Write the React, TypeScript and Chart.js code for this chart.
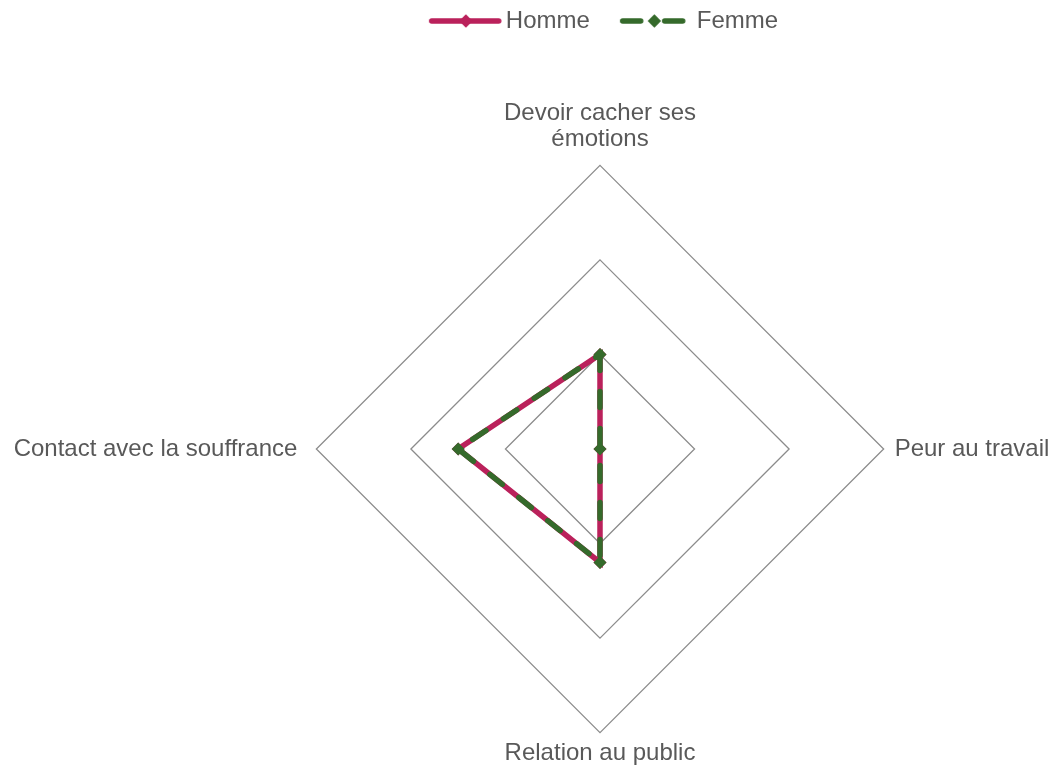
import React, { useEffect, useRef } from "react";
import { Chart, registerables } from "chart.js";

Chart.register(...registerables);

const categories: (string | string[])[] = [
  ["Devoir cacher ses", "émotions"],
  "Peur au travail",
  "Relation au public",
  "Contact avec la souffrance",
];
const hommeValues = [1.0, 0, 1.2, 1.5];
const femmeValues = [1.0, 0, 1.2, 1.5];
const seriesNames = ["Homme", "Femme"];
const labelPaddings = [13, 11, 8, 19];

const HOMME_COLOR = "#BA215B";
const FEMME_COLOR = "#356A2B";
const TEXT_COLOR = "#595959";
const FONT = "'Liberation Sans', Arial, sans-serif";

function makeLegendIcon(color: string, dashed: boolean): HTMLCanvasElement {
  const c = document.createElement("canvas");
  c.width = 100;
  c.height = 16;
  const ctx = c.getContext("2d")!;
  ctx.strokeStyle = color;
  ctx.fillStyle = color;
  ctx.lineWidth = 5.5;
  ctx.lineCap = "round";
  const cy = 8;
  let cx = 58;
  ctx.beginPath();
  if (dashed) {
    cx = 55.5;
    ctx.moveTo(23.8, cy);
    ctx.lineTo(41.8, cy);
    ctx.moveTo(65.8, cy);
    ctx.lineTo(83.8, cy);
  } else {
    ctx.moveTo(23.8, cy);
    ctx.lineTo(90.8, cy);
  }
  ctx.stroke();
  const r = 6.7;
  ctx.beginPath();
  ctx.moveTo(cx, cy - r);
  ctx.lineTo(cx + r, cy);
  ctx.lineTo(cx, cy + r);
  ctx.lineTo(cx - r, cy);
  ctx.closePath();
  ctx.fill();
  return c;
}

export default function App() {
  const ref = useRef<HTMLCanvasElement | null>(null);
  useEffect(() => {
    if (!ref.current) return;
    const icons = [makeLegendIcon(HOMME_COLOR, false), makeLegendIcon(FEMME_COLOR, true)];
    const chart = new Chart(ref.current, {
      type: "radar",
      data: {
        labels: categories,
        datasets: [
          {
            label: seriesNames[0],
            data: hommeValues,
            order: 1,
            borderColor: HOMME_COLOR,
            backgroundColor: HOMME_COLOR,
            borderWidth: 5.5,
            fill: false,
            pointStyle: "rectRot",
            pointRadius: 6.5,
            pointBorderWidth: 0,
            pointBackgroundColor: HOMME_COLOR,
          },
          {
            label: seriesNames[1],
            data: femmeValues,
            order: 0,
            borderColor: FEMME_COLOR,
            backgroundColor: FEMME_COLOR,
            borderWidth: 5.5,
            borderDash: [16, 21],
            borderCapStyle: "round",
            fill: false,
            pointStyle: "rectRot",
            pointRadius: 6.5,
            pointBorderWidth: 0,
            pointBackgroundColor: FEMME_COLOR,
          },
        ],
      },
      options: {
        responsive: true,
        maintainAspectRatio: false,
        animation: false,
        layout: { padding: { top: -14, bottom: 0, left: 0, right: 0 } },
        plugins: {
          title: {
            display: true,
            text: "",
            weight: 500,
            font: { size: 10, lineHeight: 1 },
            padding: { top: 33, bottom: 0 },
          } as any,
          legend: {
            position: "top",
            labels: {
              usePointStyle: true,
              pointStyleWidth: 72,
              padding: 23,
              color: TEXT_COLOR,
              font: { family: FONT, size: 24 },
              generateLabels: (chart: any) =>
                chart.data.datasets.map((ds: any, i: number) => ({
                  text: ds.label,
                  pointStyle: icons[i],
                  fillStyle: ds.borderColor,
                  strokeStyle: ds.borderColor,
                  lineWidth: 0,
                  hidden: false,
                  datasetIndex: i,
                  fontColor: TEXT_COLOR,
                })),
            },
          },
          tooltip: { enabled: false },
        },
        scales: {
          r: {
            min: 0,
            max: 3,
            ticks: { stepSize: 1, display: false },
            angleLines: { display: false },
            grid: { color: "#8c8c8c", lineWidth: 1.3 },
            pointLabels: {
              padding: (ctx: any) => labelPaddings[ctx.index] ?? 12,
              color: TEXT_COLOR,
              font: { family: FONT, size: 24, lineHeight: 1.07 },
            },
          },
        },
      },
    });
    return () => chart.destroy();
  }, []);
  return (
    <div
      style={{
        position: "absolute",
        left: 0,
        top: 0,
        width: 1053,
        height: 770,
        overflow: "hidden",
        background: "#fff",
      }}
    >
      <div style={{ position: "absolute", left: -70, top: 0, width: 1340, height: 782 }}>
        <canvas ref={ref} />
      </div>
    </div>
  );
}
